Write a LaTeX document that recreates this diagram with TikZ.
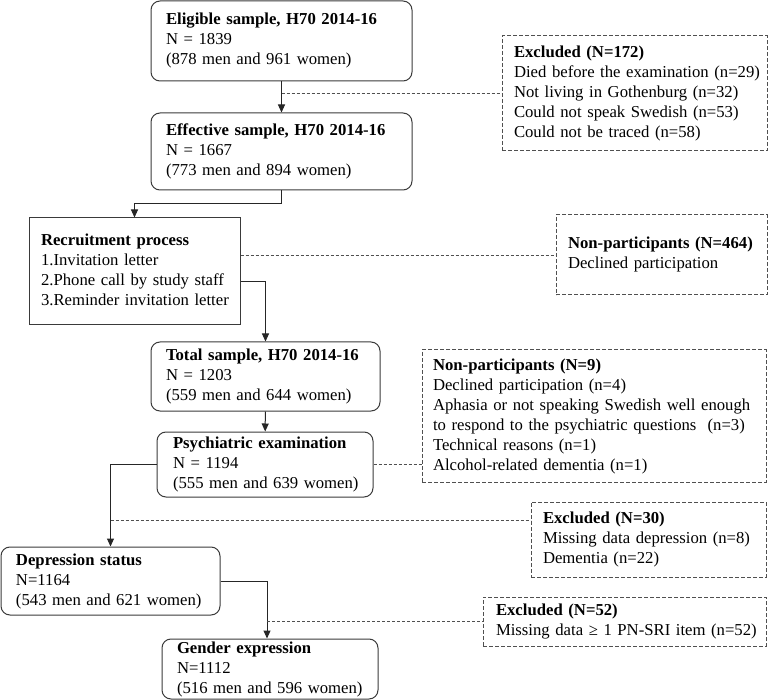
\documentclass[tikz,border=0pt]{standalone}
\usepackage{fontspec}
\setmainfont{Liberation Serif}
\usetikzlibrary{arrows.meta,calc}
\definecolor{boxc}{HTML}{3A3A3A}
\definecolor{dashc}{HTML}{505050}
\newcommand\tlines[1]{\begin{tabular}{@{}l@{}}#1\end{tabular}}
\begin{document}
\begin{tikzpicture}[x=1pt,y=-1pt,
  base/.style={line width=1pt, align=left, inner ysep=0pt,
    font=\fontsize{16.7}{20}\selectfont, text=black},
  rbox/.style={base, draw=boxc, rounded corners=9pt},
  sbox/.style={base, draw=boxc},
  dbox/.style={base, draw=dashc, dash pattern=on 4pt off 2pt},
  arr/.style={draw=black!85, line width=1pt, -{Triangle[length=8pt,width=7pt]}},
  dline/.style={draw=dashc, line width=0.9pt, dash pattern=on 3pt off 2pt}]
\useasboundingbox (0,0) rectangle (768,700);

\node[rbox, text width=231pt, inner xsep=15pt, minimum height=80pt] (b1) at (281.5,41)
  {\tlines{\textbf{Eligible sample, H70 2014-16}\\ N = 1839\\ (878 men and 961 women)}};
\node[rbox, text width=231pt, inner xsep=15pt, minimum height=77pt] (b2) at (281.5,151.5)
  {\tlines{\textbf{Effective sample, H70 2014-16}\\ N = 1667\\ (773 men and 894 women)}};
\node[sbox, text width=187pt, inner xsep=12pt, minimum height=107pt] (b3) at (134.5,271.5)
  {\tlines{\textbf{Recruitment process}\\ 1.Invitation letter\\ 2.Phone call by study staff\\ 3.Reminder invitation letter}};
\node[dbox, text width=241pt, inner xsep=12pt, minimum height=115pt] (e1) at (634.5,93.5)
  {\tlines{\textbf{Excluded (N=172)}\\ Died before the examination (n=29)\\ Not living in Gothenburg (n=32)\\ Could not speak Swedish (n=53)\\ Could not be traced (n=58)}};
\node[dbox, text width=187pt, inner xsep=12pt, minimum height=80pt] (np1) at (661.5,255)
  {\tlines{\textbf{Non-participants (N=464)}\\ Declined participation}};
\node[rbox, text width=199pt, inner xsep=15pt, minimum height=69pt] (b4) at (265.5,376.5)
  {\tlines{\textbf{Total sample, H70 2014-16}\\ N = 1203\\ (559 men and 644 women)}};
\node[rbox, text width=184pt, inner xsep=16pt, minimum height=65pt] (b5) at (265,464.5)
  {\tlines{\textbf{Psychiatric examination}\\ N = 1194\\ (555 men and 639 women)}};
\node[dbox, text width=322pt, inner xsep=11pt, minimum height=132pt] (np2) at (594,416)
  {\tlines{\textbf{Non-participants (N=9)}\\ Declined participation (n=4)\\ Aphasia or not speaking Swedish well enough\\ to respond to the psychiatric questions\ \ (n=3)\\ Technical reasons (n=1)\\ Alcohol-related dementia (n=1)}};
\node[dbox, text width=211pt, inner xsep=12pt, minimum height=75pt] (e2) at (648.5,539.5)
  {\tlines{\textbf{Excluded (N=30)}\\ Missing data depression (n=8)\\ Dementia (n=22)}};
\node[rbox, text width=189pt, inner xsep=15pt, minimum height=68pt] (b6) at (110.5,581)
  {\tlines{\textbf{Depression status}\\ N=1164\\ (543 men and 621 women)}};
\node[dbox, text width=257pt, inner xsep=13pt, minimum height=49pt] (e3) at (624.5,621.5)
  {\tlines{\textbf{Excluded (N=52)}\\ Missing data ≥ 1 PN-SRI item (n=52)}};
\node[rbox, text width=186pt, inner xsep=15pt, minimum height=60pt] (b7) at (270,669)
  {\tlines{\textbf{Gender expression}\\ N=1112\\ (516 men and 596 women)}};

% main flow
\draw[arr] (b1) -- (b2);
\draw[dline] (b1.south |- e1.west) -- (e1.west);
\draw[arr] (b2.south) -- ++(0,13) -| (b3.north);
\draw[dline] (b3.east |- np1.west) -- (np1.west);
\draw[arr] ($(b3.east)+(0,10.5)$) -| (b4.north);
\draw[arr] (b4) -- (b5);
\draw[dline] (b5.east) -- (b5.east -| np2.west);
\draw[arr] (b5.west) -| (b6.north);
\coordinate (d2) at (110.5,520);
\draw[dline] (d2) -- (d2 -| e2.west);
\coordinate (k3) at ($(b7.north)+(-3,0)$);
\draw[arr] (b6.east) -| (k3);
\draw[dline] (k3 |- e3.west) -- (e3.west);
\end{tikzpicture}
\end{document}
